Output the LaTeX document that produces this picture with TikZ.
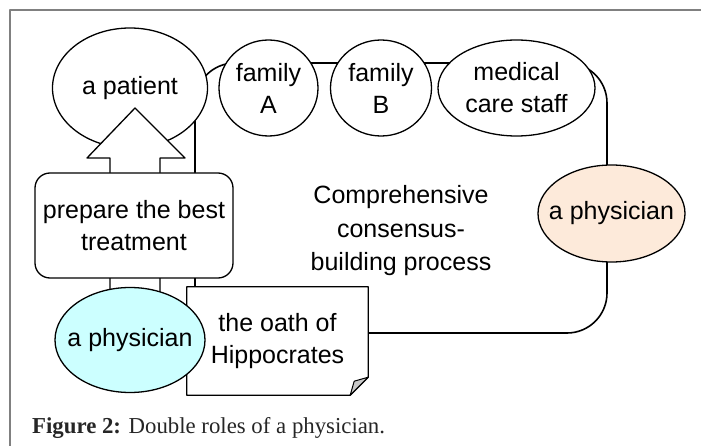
\documentclass[tikz,border=0pt]{standalone}
\usepackage{fontspec}
\setmainfont{Liberation Serif}
\setsansfont{Liberation Sans}
\usetikzlibrary{shapes.geometric,positioning}

\definecolor{cyanfill}{RGB}{204,255,255}
\definecolor{peachfill}{RGB}{253,234,218}
\definecolor{foldgray}{RGB}{200,200,200}

\begin{document}
\begin{tikzpicture}[x=1pt, y=-1pt, line join=round,
	txt/.style={align=center, font=\sffamily\fontsize{25}{32}\selectfont},
	nodestyle/.style={ellipse, draw=black, line width=1.3pt, fill=white, inner sep=0pt},
	boxstyle/.style={txt, rectangle, rounded corners=15pt, draw=black, line width=1.3pt, fill=white, inner sep=0pt},
	pil/.style={draw=black, line width=1.3pt, fill=white}]
	\useasboundingbox (0,0) rectangle (701,446);
	\draw[gray, line width=1.5pt] (10,446) -- (10,10) -- (701,10);
	% consensus loop behind the nodes
	\coordinate (loopnw) at (195,63);
	\coordinate (loopse) at (607,333);
	\draw[line width=1.6pt, rounded corners=40pt] (loopnw) rectangle (loopse);
	\node[nodestyle, minimum width=155pt, minimum height=120pt, label={[txt]center:a patient}] (patient) at (130,88) {};
	\node[nodestyle, minimum width=99pt, minimum height=96pt, label={[txt]center:{family\\A}}] (famA) at (268.5,88) {};
	\node[nodestyle, minimum width=101pt, minimum height=96pt, label={[txt]center:{family\\B}}] (famB) at (381,88) {};
	\node[nodestyle, minimum width=157pt, minimum height=96pt, label={[txt]center:{medical\\care staff}}] (staff) at (516.5,88) {};
	% big up arrow
	\draw[pil] (135,108) -- (185,158) -- (160,158) -- (160,300) -- (110,300) -- (110,158) -- (87,158) -- cycle;
	\node[boxstyle, minimum width=198pt, minimum height=105pt] (prep) at (134,225.5) {prepare the best\\treatment};
	\node[txt, font=\sffamily\fontsize{25}{33.5}\selectfont] (proc) at (401,231) {Comprehensive\\consensus-\\building process};
	% oath document
	\path (277.5,341) node[inner sep=0pt, minimum width=181pt, minimum height=108pt] (oath) {};
	\draw[pil] (oath.north west) -- (oath.north east) -- ([yshift=18pt]oath.south east) -- ([xshift=-18pt]oath.south east) -- (oath.south west) -- cycle;
	\draw[pil, fill=foldgray, line width=1pt] ([yshift=18pt]oath.south east) -- ([xshift=-14pt,yshift=14pt]oath.south east) -- ([xshift=-18pt]oath.south east) -- cycle;
	\node[txt] (oathtxt) at (oath.center) {the oath of\\Hippocrates};
	\node[nodestyle, fill=cyanfill, minimum width=150pt, minimum height=105pt, label={[txt]center:a physician}] (phyL) at (130,340) {};
	\node[nodestyle, fill=peachfill, minimum width=147pt, minimum height=97pt, label={[txt]center:a physician}] (phyR) at (611.5,213.5) {};
	\node[anchor=base west, inner sep=0pt, font=\fontsize{22.8}{26}\selectfont, text=black!85] (cap) at (32,433) {\textbf{Figure 2:} Double roles of a physician.};
\end{tikzpicture}
\end{document}
